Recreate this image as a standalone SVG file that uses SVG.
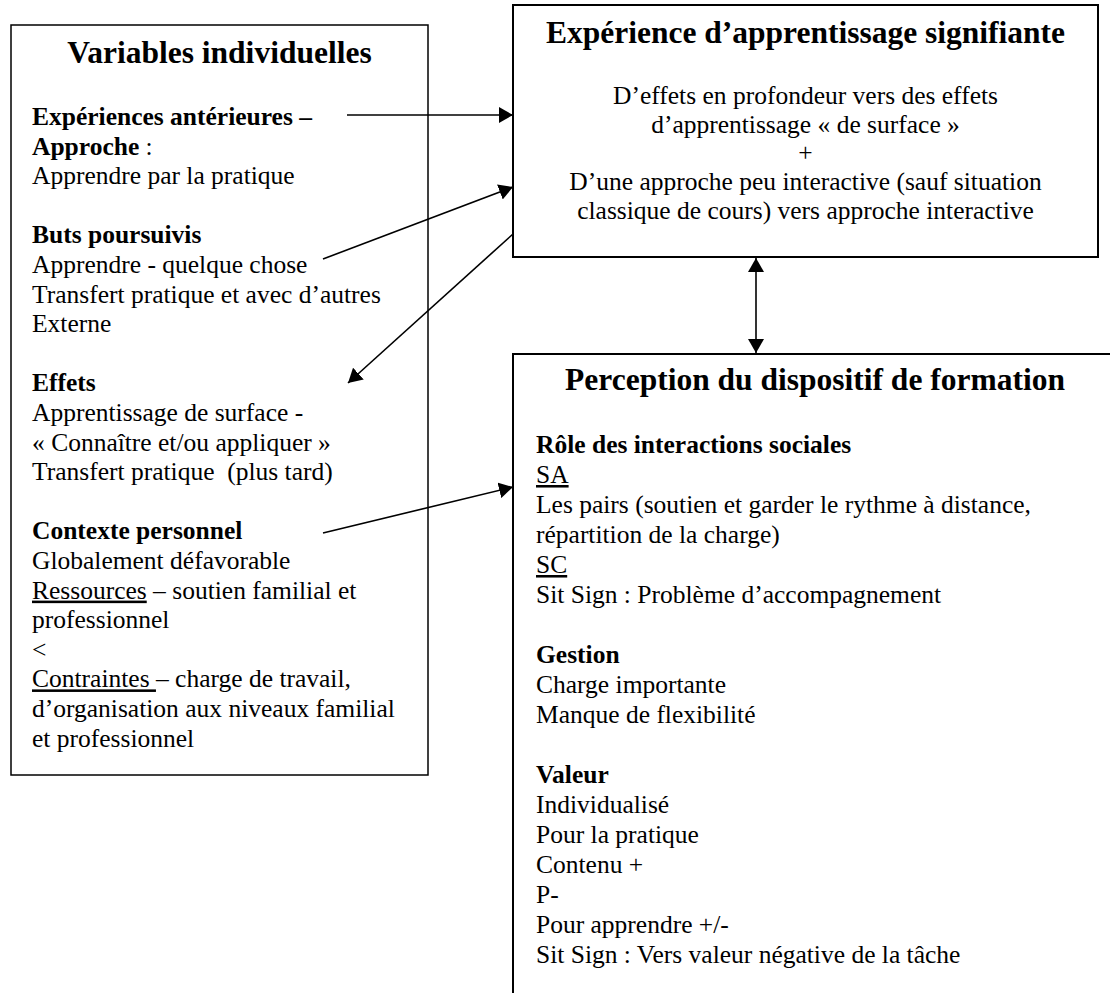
<svg xmlns="http://www.w3.org/2000/svg" width="1110" height="993" viewBox="0 0 1110 993">
  <style>
    text { font-family: "Liberation Serif", "Times New Roman", serif; font-size: 25.5px; fill: #000; }
    .title { font-size: 31.5px; font-weight: bold; text-anchor: middle; }
    .b { font-weight: bold; }
    .u { text-decoration: underline; }
    .c { text-anchor: middle; }
    .box { fill: #fff; stroke: #000; stroke-width: 2; }
    .box-thin { fill: #fff; stroke: #000; stroke-width: 1.5; }
    .conn { fill: none; stroke: #000; stroke-width: 1.6; }
  </style>
  <defs>
    <marker id="arrow" viewBox="0 0 14 16" refX="14" refY="8" markerWidth="14" markerHeight="16" markerUnits="userSpaceOnUse" orient="auto-start-reverse">
      <path d="M0,0 L14,8 L0,16 Z" fill="#000"/>
    </marker>
  </defs>
  <rect width="1110" height="993" fill="#fff"/>

  <g id="variables-individuelles">
    <rect class="box-thin" x="11" y="25" width="417" height="750"/>
    <text class="title" x="219.5" y="63">Variables individuelles</text>
    <text x="32" y="125" class="b">Expériences antérieures –</text>
    <text x="32" y="154.6"><tspan class="b">Approche</tspan> :</text>
    <text x="32" y="184.2">Apprendre par la pratique</text>
    <text x="32" y="243.4" class="b">Buts poursuivis</text>
    <text x="32" y="273">Apprendre - quelque chose</text>
    <text x="32" y="302.6">Transfert pratique et avec d’autres</text>
    <text x="32" y="332.2">Externe</text>
    <text x="32" y="391.4" class="b">Effets</text>
    <text x="32" y="421">Apprentissage de surface -</text>
    <text x="32" y="450.6">« Connaître et/ou appliquer »</text>
    <text x="32" y="480.2" style="white-space:pre">Transfert pratique  (plus tard)</text>
    <text x="32" y="539.4" class="b">Contexte personnel</text>
    <text x="32" y="569">Globalement défavorable</text>
    <text x="32" y="598.6"><tspan class="u">Ressources</tspan> – soutien familial et</text>
    <text x="32" y="628.2">professionnel</text>
    <text x="32" y="657.8">&lt;</text>
    <text x="32" y="687.4"><tspan class="u">Contraintes&#160;</tspan>– charge de travail,</text>
    <text x="32" y="717">d’organisation aux niveaux familial</text>
    <text x="32" y="746.6">et professionnel</text>
  </g>

  <g id="experience-apprentissage">
    <rect class="box" x="513" y="5" width="585" height="252"/>
    <text class="title" x="805.5" y="43">Expérience d’apprentissage signifiante</text>
    <text class="c" x="805.5" y="104">D’effets en profondeur vers des effets</text>
    <text class="c" x="805.5" y="132.5">d’apprentissage « de surface »</text>
    <text class="c" x="805.5" y="161">+</text>
    <text class="c" x="805.5" y="190">D’une approche peu interactive (sauf situation</text>
    <text class="c" x="805.5" y="218.5">classique de cours) vers approche interactive</text>
  </g>

  <g id="perception-dispositif">
    <rect class="box" x="513" y="354" width="607" height="650"/>
    <text class="title" x="815" y="390">Perception du dispositif de formation</text>
    <text x="536" y="453" class="b">Rôle des interactions sociales</text>
    <text x="536" y="483"><tspan class="u">SA</tspan></text>
    <text x="536" y="513">Les pairs (soutien et garder le rythme à distance,</text>
    <text x="536" y="543">répartition de la charge)</text>
    <text x="536" y="573"><tspan class="u">SC</tspan></text>
    <text x="536" y="603">Sit Sign : Problème d’accompagnement</text>
    <text x="536" y="663" class="b">Gestion</text>
    <text x="536" y="693">Charge importante</text>
    <text x="536" y="723">Manque de flexibilité</text>
    <text x="536" y="783" class="b">Valeur</text>
    <text x="536" y="813">Individualisé</text>
    <text x="536" y="843">Pour la pratique</text>
    <text x="536" y="873">Contenu +</text>
    <text x="536" y="903">P-</text>
    <text x="536" y="933">Pour apprendre +/-</text>
    <text x="536" y="963">Sit Sign : Vers valeur négative de la tâche</text>
  </g>

  <g id="connectors">
    <line class="conn" x1="347" y1="115" x2="513" y2="115" marker-end="url(#arrow)"/>
    <line class="conn" x1="323" y1="259" x2="513" y2="187" marker-end="url(#arrow)"/>
    <line class="conn" x1="513" y1="234" x2="348" y2="383" marker-end="url(#arrow)"/>
    <line class="conn" x1="323" y1="533" x2="513" y2="487" marker-end="url(#arrow)"/>
    <line class="conn" x1="756" y1="258" x2="756" y2="353" marker-start="url(#arrow)" marker-end="url(#arrow)"/>
  </g>
</svg>
